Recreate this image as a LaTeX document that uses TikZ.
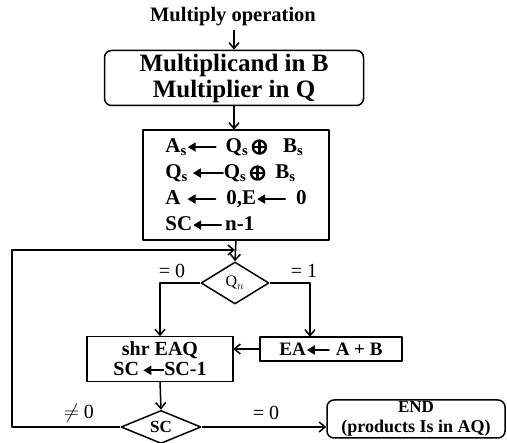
\documentclass[tikz,border=0pt]{standalone}
\usepackage{fontspec}
\setmainfont{Liberation Serif}
\usetikzlibrary{arrows.meta,shapes.geometric}
% heavy assignment arrow and exclusive-or sign
\newcommand{\lar}[1][26pt]{\tikz[baseline=-0.6ex]\draw[line width=1.9pt, line cap=round, {Triangle[length=8pt,width=9pt]}-] (0pt,0pt) -- (#1,0pt);}
\newcommand{\xorop}{\tikz[baseline=-0.6ex]{\draw[line width=2.4pt] (0pt,0pt) circle (6.5pt);
    \draw[line width=2.4pt] (-6.5pt,0pt) -- (6.5pt,0pt) (0pt,-6.5pt) -- (0pt,6.5pt);}}
\begin{document}
\begin{tikzpicture}[x=1pt, y=-1pt, line width=1.5pt, line join=round,
    >={Straight Barb[length=6pt,width=10pt]},
    box/.style={draw, rectangle, inner sep=0pt},
    rbox/.style={box, rounded corners=7pt},
    cond/.style={draw, diamond, inner sep=0pt},
    lbl/.style={font=\fontsize{20}{22}\selectfont}]
    \useasboundingbox (0,0) rectangle (507,443);

    \node[font=\fontsize{20.5}{22}\selectfont\bfseries] (title) at (233,17) {Multiply operation};
    \node[rbox, minimum width=259pt, minimum height=55pt, align=center,
          font=\fontsize{25}{26}\selectfont\bfseries] (load) at (234,78) {Multiplicand in B\\Multiplier in Q};
    \node[box, minimum width=186pt, minimum height=110pt, align=left,
          font=\fontsize{21}{26}\selectfont\bfseries] (init) at (236,185)
        {A\textsubscript{s}\lar[28pt]\hspace{9pt}Q\textsubscript{s}\,\xorop\hspace{16pt}B\textsubscript{s}\\
         Q\textsubscript{s}\hspace{4pt}\lar[30pt]Q\textsubscript{s}\,\xorop\hspace{10pt}B\textsubscript{s}\\
         A\hspace{6pt}\lar[28pt]\hspace{10pt}0,E\lar[28pt]\hspace{10pt}0\\
         SC\lar[28pt]\hspace{3pt}n-1};
    \node[cond, minimum width=68pt, minimum height=42pt,
          font=\fontsize{16}{17}\selectfont] (Qn) at (235,283) {Q$_n$};
    \node[box, minimum width=146pt, minimum height=45pt, align=center,
          font=\fontsize{20}{20}\selectfont\bfseries] (shift) at (160,359) {shr EAQ\\SC\,\lar[20pt]SC-1};
    \node[box, minimum width=142pt, minimum height=24pt,
          font=\fontsize{19}{20}\selectfont\bfseries] (add) at (331,349) {EA\lar[22pt]\hspace{6pt}A + B};
    \node[cond, minimum width=80pt, minimum height=33pt,
          font=\fontsize{17}{18}\selectfont\bfseries] (SC) at (161,427) {SC};
    \node[rbox, minimum width=178pt, minimum height=38pt, align=center,
          font=\fontsize{17}{20}\selectfont\bfseries] (done) at (416,419)
        {END\\\fontsize{18}{18}\selectfont(products Is in AQ)};

    \coordinate (jn) at (235,250);
    \coordinate (loop) at (12,250);

    \draw[->] (title.south -| load.north) -- (load.north);
    \draw[->] (load.south) -- (load.south |- init.north);
    \draw[->] (init.south) -- (Qn.north);
    \draw[->] (Qn.west) -| (shift.north);
    \draw[->] (Qn.east) -| ([xshift=-21pt]add.north);
    \draw[->] (add.west) -- (add.west -| shift.east);
    \draw[->] (shift.south) -- (SC.north);
    \draw[->] (SC.east) -- (SC.east -| done.west);
    \draw[->] (SC.west) -| (loop) -- (jn);

    \node[lbl] (z1) at (172,271) {= 0};
    \node[lbl] (o1) at (304,271) {= 1};
    \node[lbl] (nz) at (79,413) {$\neq$ 0};
    \node[lbl] (z2) at (266,413) {= 0};
\end{tikzpicture}
\end{document}
